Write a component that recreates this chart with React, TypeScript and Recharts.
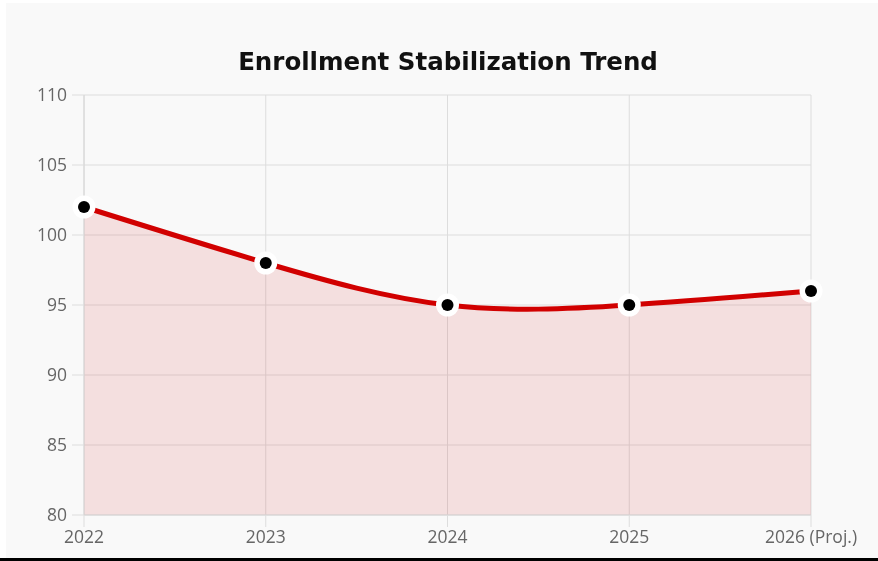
import { ComposedChart, Area, Line, XAxis, YAxis, CartesianGrid } from 'recharts';

const years = ['2022', '2023', '2024', '2025', '2026 (Proj.)'];
const enrollment = [102, 98, 95, 95, 96];
const yTicks = [80, 85, 90, 95, 100, 105, 110];

const data = years.map((year, i) => ({ year, value: enrollment[i] }));

const RED = '#d10000';

const MarkerDot = (props: any) => {
  const { cx, cy } = props;
  if (cx == null || cy == null) return null;
  return (
    <g>
      <circle cx={cx} cy={cy} r={11.5} fill="#ffffff" />
      <circle cx={cx} cy={cy} r={6} fill="#000000" />
    </g>
  );
};

const tickStyle = { fill: '#666666', fontSize: 17.5, fontFamily: '"Open Sans", sans-serif' };

export default function App() {
  return (
    <div style={{ position: 'fixed', left: 0, top: 0, width: 878, height: 561, background: '#ffffff' }}>
      <div
        style={{
          position: 'absolute',
          left: 6,
          top: 3,
          width: 872,
          height: 555,
          background: '#f9f9f9',
        }}
      >
        <div
          style={{
            position: 'absolute',
            left: 0,
            top: 43,
            width: 884,
            textAlign: 'center',
            fontFamily: '"DejaVu Sans", sans-serif',
            fontWeight: 700,
            fontSize: 24.5,
            color: '#111111',
            lineHeight: '32px',
          }}
        >
          Enrollment Stabilization Trend
        </div>
        <ComposedChart
          width={872}
          height={555}
          data={data}
          margin={{ top: 92, right: 67, bottom: 13, left: 0 }}
        >
          <CartesianGrid stroke="#dddddd" strokeWidth={1} />
          <XAxis
            dataKey="year"
            height={30}
            axisLine={{ stroke: '#d6d6d6' }}
            tickLine={{ stroke: '#dddddd' }}
            tickSize={12}
            tickMargin={4}
            tick={tickStyle}
            interval={0}
          />
          <YAxis
            width={78}
            domain={[80, 110]}
            ticks={yTicks}
            axisLine={{ stroke: '#d6d6d6' }}
            tickLine={{ stroke: '#dddddd' }}
            tickSize={12}
            tickMargin={5}
            tick={tickStyle}
            interval={0}
          />
          <Area
            type="natural"
            dataKey="value"
            stroke="none"
            fill="rgba(204, 0, 0, 0.1)"
            fillOpacity={1}
            baseValue={80}
            isAnimationActive={false}
          />
          <Line
            type="natural"
            dataKey="value"
            stroke={RED}
            strokeWidth={5}
            dot={<MarkerDot />}
            activeDot={false}
            isAnimationActive={false}
          />
        </ComposedChart>
      </div>
      <div style={{ position: 'absolute', left: 0, top: 558, width: 878, height: 3, background: '#000000' }} />
    </div>
  );
}
